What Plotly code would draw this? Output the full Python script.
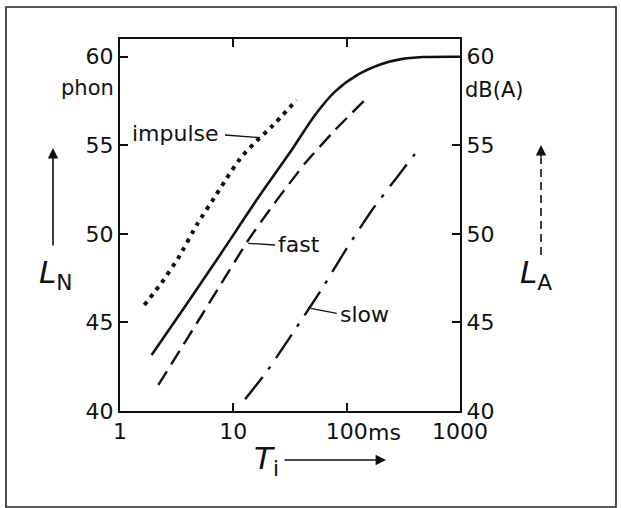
import plotly.graph_objects as go

# ---- data ----
T_loud = [1.9, 3.88, 7.63, 16.6, 32.7, 52.6, 78.9, 126.7, 203.8, 295.6, 474, 1000]
L_loud = [43.16, 46.04, 48.81, 52.05, 54.73, 56.71, 58.03, 59.0, 59.59, 59.85, 59.98, 60.0]

T_impulse = [1.64, 2.33, 3.27, 4.81, 7.13, 8.74, 11.69, 15.0, 22.26, 36.2]
L_impulse = [45.98, 47.24, 48.64, 50.56, 52.25, 53.14, 54.32, 55.06, 56.11, 57.56]

T_fast = [2.18, 5.08, 13.56, 21.8, 42.9, 78.9, 154.8]
L_fast = [41.47, 45.25, 49.65, 51.52, 53.98, 55.86, 57.74]

T_slow = [12.7, 19.7, 33.4, 59.0, 100, 170, 286, 453]
L_slow = [40.66, 42.22, 44.39, 46.79, 49.18, 51.4, 53.3, 54.96]

x_tickvals = [1, 10, 100, 1000]
x_ticktext = ["1", "10", "100", "1000"]
y_tickvals = [40, 45, 50, 55, 60]

# ---- geometry ----
W, H = 621, 508
ML, MR, MT, MB = 120, 161, 39, 97
PW, PH = W - ML - MR, H - MT - MB


def px(xp):
    return (xp - ML) / PW


def py(yp):
    return (H - MB - yp) / PH


FONT = "DejaVu Sans"
BLACK = "#111111"

fig = go.Figure()
fig.add_trace(go.Scatter(x=T_loud, y=L_loud, mode="lines", yaxis="y",
                         line=dict(color=BLACK, width=2.6, shape="spline", smoothing=0.8),
                         name="loudness"))
fig.add_trace(go.Scatter(x=T_impulse, y=L_impulse, mode="lines", yaxis="y2",
                         line=dict(color=BLACK, width=4, dash="4px,5.5px", shape="spline", smoothing=0.4),
                         name="impulse"))
fig.add_trace(go.Scatter(x=T_fast, y=L_fast, mode="lines", yaxis="y2",
                         line=dict(color=BLACK, width=2.4, dash="16px,8px", shape="spline", smoothing=0.4),
                         name="fast"))
fig.add_trace(go.Scatter(x=T_slow, y=L_slow, mode="lines", yaxis="y2",
                         line=dict(color=BLACK, width=2.4, dash="28px,10px,3.5px,10px", shape="spline", smoothing=0.4),
                         name="slow"))

tickfont = dict(family=FONT, size=22, color=BLACK)
axis_common = dict(showline=True, linecolor=BLACK, linewidth=2, ticks="inside", ticklen=8,
                   tickwidth=1.6, tickcolor=BLACK, showgrid=False, zeroline=False, tickfont=tickfont)

fig.update_layout(
    width=W, height=H,
    margin=dict(l=ML, r=MR, t=MT, b=MB, pad=0),
    paper_bgcolor="white", plot_bgcolor="white",
    showlegend=False,
    xaxis=dict(type="log", range=[0, 3], tickvals=x_tickvals, ticktext=x_ticktext,
               mirror="ticks", **axis_common),
    yaxis=dict(range=[40, 61], tickvals=y_tickvals, side="left", **axis_common),
    yaxis2=dict(range=[40, 61], tickvals=y_tickvals, side="right", overlaying="y", **axis_common),
)

ann = []
txt = lambda s, x, y, xa, ya, size=22: dict(text=s, x=px(x), y=py(y), xref="paper", yref="paper",
                                            xanchor=xa, yanchor=ya, showarrow=False,
                                            font=dict(family=FONT, size=size, color=BLACK))
ann.append(txt("phon", 116, 88, "right", "middle", 21))
ann.append(txt("dB(A)", 463, 90, "left", "middle", 21))
ann.append(txt("ms", 366, 432, "left", "middle", 22))
ann.append(txt("impulse", 221, 133, "right", "middle", 22))
ann.append(txt("fast", 276, 245, "left", "middle", 22))
ann.append(txt("slow", 338, 314, "left", "middle", 22))
ann.append(txt("<i>L</i><sub>N</sub>", 37, 274, "left", "middle", 31))
ann.append(txt("<i>L</i><sub>A</sub>", 518, 274, "left", "middle", 31))
ann.append(txt("<i>T</i><sub>i</sub>", 252, 460, "left", "middle", 31))


def arrow(tipx, tipy, dx, dy):
    return dict(text="", x=px(tipx), y=py(tipy), xref="paper", yref="paper",
                ax=dx, ay=dy, axref="pixel", ayref="pixel", showarrow=True,
                arrowhead=2, arrowsize=1.3, arrowwidth=1.6, arrowcolor=BLACK)


ann.append(arrow(53, 148, 0, 99))
ann.append(arrow(541, 145, 0, 14))
ann.append(arrow(386, 460, -103, 0))
fig.update_layout(annotations=ann)

shapes = []


def seg(x0, y0, x1, y1, w=1.3, dash="solid"):
    return dict(type="line", xref="paper", yref="paper", x0=px(x0), y0=py(y0), x1=px(x1), y1=py(y1),
                line=dict(color=BLACK, width=w, dash=dash))


shapes.append(seg(225, 135, 260, 137.7))
shapes.append(seg(248.3, 243.3, 275, 245))
shapes.append(seg(310.7, 308.3, 336.7, 313.3))
shapes.append(seg(541, 255, 541, 158, 1.6, "8px,5px"))
shapes.append(dict(type="rect", xref="paper", yref="paper", x0=px(6), y0=py(507), x1=px(616), y1=py(7),
                   line=dict(color="#222222", width=1.6)))
fig.update_layout(shapes=shapes)

fig.write_html("out.html")
